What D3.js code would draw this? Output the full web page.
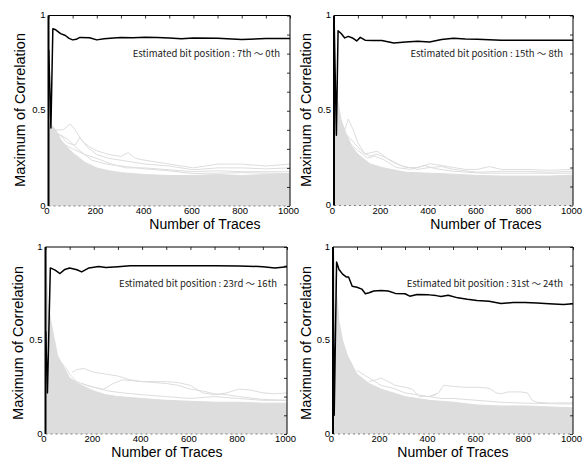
<!DOCTYPE html>
<html><head><meta charset="utf-8">
<script src="https://cdn.jsdelivr.net/npm/d3@7"></script>
<style>body{margin:0;background:#fff}svg{display:block}</style>
</head><body>
<svg id="c" width="587" height="461"></svg>
<script>
// ---- data ----
const xTicks = [0, 200, 400, 600, 800, 1000];
const yTicks = [0, 0.5, 1];
const xTitle = "Number of Traces";
const yTitle = "Maximum of Correlation";
const bitLabels = ["Estimated bit position : 7th ～ 0th", "Estimated bit position : 15th ～ 8th",
                   "Estimated bit position : 23rd ～ 16th", "Estimated bit position : 31st ～ 24th"];

// correct-key trace (black) per panel: [traces, max correlation]
const correct1 = [[1,0.82],[10,0.41],[18,0.93],[30,0.925],[50,0.905],[70,0.895],[85,0.88],[100,0.872],[115,0.875],[130,0.885],[170,0.883],[200,0.872],[230,0.878],[270,0.882],[300,0.885],[350,0.883],[400,0.886],[450,0.884],[500,0.882],[550,0.878],[600,0.882],[700,0.88],[800,0.874],[900,0.879],[1000,0.879]];
const correct2 = [[1,0.95],[10,0.37],[17,0.92],[30,0.905],[45,0.882],[60,0.89],[80,0.88],[95,0.866],[110,0.885],[130,0.87],[160,0.868],[200,0.868],[250,0.855],[300,0.86],[350,0.864],[400,0.86],[450,0.874],[500,0.88],[550,0.876],[600,0.875],[700,0.87],[800,0.87],[900,0.87],[1000,0.87]];
const correct3 = [[1,0.55],[8,0.22],[20,0.888],[40,0.876],[60,0.858],[80,0.88],[100,0.888],[130,0.878],[150,0.867],[180,0.888],[220,0.896],[250,0.89],[300,0.895],[350,0.9],[500,0.9],[700,0.9],[800,0.899],[900,0.895],[950,0.888],[1000,0.895]];
const correct4 = [[1,0.75],[5,0.1],[15,0.92],[25,0.88],[40,0.855],[55,0.84],[65,0.84],[80,0.79],[100,0.785],[120,0.775],[135,0.75],[150,0.755],[170,0.765],[200,0.767],[230,0.765],[260,0.752],[300,0.75],[320,0.737],[350,0.746],[400,0.744],[430,0.74],[450,0.735],[480,0.742],[520,0.728],[560,0.72],[600,0.714],[650,0.71],[700,0.698],[750,0.703],[800,0.703],[850,0.7],[900,0.697],[960,0.692],[1000,0.697]];

// dense band of wrong-key traces (upper edge) per panel
const band1 = [[0,0.44],[15,0.42],[30,0.40],[50,0.35],[75,0.31],[100,0.28],[150,0.23],[200,0.2],[250,0.185],[300,0.175],[400,0.165],[500,0.16],[600,0.16],[700,0.165],[800,0.16],[900,0.165],[1000,0.17]];
const band2 = [[0,0.65],[8,0.6],[15,0.55],[30,0.45],[50,0.38],[75,0.31],[100,0.27],[150,0.22],[200,0.2],[300,0.175],[400,0.17],[500,0.165],[600,0.158],[700,0.155],[800,0.155],[900,0.155],[1000,0.16]];
const band3 = [[0,1.0],[3,0.95],[6,0.8],[10,0.7],[20,0.62],[30,0.55],[50,0.42],[70,0.37],[100,0.3],[150,0.26],[200,0.23],[250,0.21],[300,0.2],[400,0.19],[500,0.18],[600,0.175],[700,0.17],[800,0.17],[900,0.165],[1000,0.165]];
const band4 = [[0,1.0],[4,0.95],[8,0.85],[15,0.75],[25,0.6],[40,0.5],[60,0.42],[80,0.37],[100,0.32],[150,0.27],[200,0.24],[250,0.22],[300,0.2],[400,0.18],[500,0.17],[600,0.155],[700,0.15],[800,0.15],[900,0.145],[1000,0.14]];

// individual wrong-key traces standing above the band
const wrong1 = [
 [[20,0.40],[60,0.40],[90,0.43],[110,0.40],[140,0.34],[170,0.31],[200,0.29],[250,0.27],[300,0.26],[330,0.28],[360,0.25],[400,0.24],[450,0.23],[500,0.22],[550,0.21],[600,0.20],[650,0.21],[700,0.22],[800,0.22],[900,0.21],[1000,0.22]],
 [[20,0.38],[50,0.37],[80,0.33],[110,0.32],[130,0.36],[160,0.31],[200,0.27],[250,0.25],[300,0.24],[350,0.23],[400,0.22],[500,0.21],[600,0.19],[700,0.2],[800,0.2],[900,0.195],[1000,0.2]],
 [[30,0.36],[70,0.32],[100,0.30],[150,0.27],[200,0.25],[260,0.22],[320,0.2],[400,0.2],[500,0.19],[600,0.18],[700,0.185],[800,0.18],[1000,0.18]],
 [[40,0.38],[80,0.35],[120,0.3],[180,0.24],[240,0.22],[300,0.21],[400,0.195],[500,0.185],[600,0.17],[800,0.175],[1000,0.17]]
];
const wrong2 = [
 [[40,0.38],[60,0.455],[80,0.4],[100,0.33],[130,0.27],[160,0.28],[180,0.285],[200,0.27],[230,0.24],[260,0.22],[300,0.2],[350,0.2],[400,0.22],[430,0.215],[500,0.2],[550,0.19],[600,0.19],[650,0.205],[700,0.19],[800,0.19],[900,0.185],[1000,0.19]],
 [[30,0.4],[70,0.35],[120,0.28],[150,0.26],[180,0.27],[220,0.25],[280,0.21],[350,0.19],[400,0.2],[450,0.205],[500,0.19],[600,0.175],[700,0.18],[800,0.18],[900,0.175],[1000,0.18]],
 [[50,0.34],[100,0.29],[140,0.25],[170,0.26],[210,0.24],[260,0.2],[320,0.19],[380,0.21],[420,0.195],[500,0.18],[620,0.17],[750,0.17],[1000,0.17]]
];
const wrong3 = [
 [[110,0.33],[130,0.345],[160,0.35],[200,0.33],[250,0.32],[300,0.31],[350,0.29],[400,0.28],[450,0.275],[500,0.27],[550,0.26],[600,0.24],[650,0.23],[700,0.215],[750,0.21],[800,0.2],[900,0.185],[1000,0.18]],
 [[150,0.27],[200,0.25],[240,0.24],[280,0.27],[320,0.29],[360,0.285],[400,0.28],[450,0.28],[500,0.28],[550,0.275],[600,0.26],[650,0.22],[700,0.21],[750,0.22],[800,0.24],[850,0.235],[900,0.22],[950,0.215],[1000,0.22]],
 [[60,0.39],[80,0.36],[100,0.32],[130,0.28],[170,0.26],[200,0.25],[260,0.23],[320,0.22],[400,0.21],[500,0.2],[600,0.19],[700,0.2],[800,0.19],[900,0.18],[1000,0.18]]
];
const wrong4 = [
 [[150,0.28],[180,0.29],[200,0.3],[230,0.28],[260,0.26],[300,0.25],[330,0.24],[360,0.2],[400,0.2],[430,0.21]],
 [[400,0.2],[440,0.22],[460,0.26],[500,0.255],[550,0.25],[600,0.25],[650,0.245],[680,0.22],[700,0.215],[730,0.225],[780,0.225],[810,0.22],[830,0.18],[850,0.17],[900,0.165],[1000,0.167]],
 [[100,0.34],[150,0.3],[200,0.26],[250,0.245],[300,0.22],[350,0.21],[400,0.2],[450,0.19],[500,0.19],[600,0.18],[700,0.17],[800,0.165],[1000,0.16]]
];

// ---- layout ----
const panels = [
  {l:48.5, r:290, t:15.5, b:206,  correct:correct1, band:band1, wrong:wrong1, label:bitLabels[0], xtx:205, xty:229, yx:25,  yty:110},
  {l:334,  r:573, t:15.5, b:205.5,correct:correct2, band:band2, wrong:wrong2, label:bitLabels[1], xtx:486, xty:229, yx:311, yty:110},
  {l:45.5, r:287, t:247,  b:434,  correct:correct3, band:band3, wrong:wrong3, label:bitLabels[2], xtx:167, xty:457.2, yx:23,  yty:343},
  {l:333,  r:573, t:247,  b:434,  correct:correct4, band:band4, wrong:wrong4, label:bitLabels[3], xtx:453, xty:457.2, yx:311, yty:343}
];

const svg = d3.select("#c");
const GRAY = "#dcdddc";
const FONT = "'Liberation Sans', Arial, Helvetica, sans-serif";

panels.forEach((p, i) => {
  const x = d3.scaleLinear().domain([0, 1000]).range([p.l, p.r]);
  const y = d3.scaleLinear().domain([0, 1]).range([p.b, p.t]);
  const g = svg.append("g");
  const cid = "clip" + i;
  svg.append("clipPath").attr("id", cid).append("rect")
    .attr("x", p.l).attr("y", p.t).attr("width", p.r - p.l).attr("height", p.b - p.t);
  const plot = g.append("g").attr("clip-path", `url(#${cid})`);

  plot.append("path").datum(p.band)
    .attr("d", d3.area().x(d => x(d[0])).y0(y(0)).y1(d => y(d[1])))
    .attr("fill", GRAY).attr("stroke", GRAY).attr("stroke-width", 1);

  const line = d3.line().x(d => x(d[0])).y(d => y(d[1]));
  plot.selectAll("path.w").data(p.wrong).join("path").attr("class", "w")
    .attr("d", line).attr("fill", "none").attr("stroke", GRAY).attr("stroke-width", 1);

  // bottom dotted baseline
  g.append("line").attr("x1", p.l).attr("x2", p.r).attr("y1", p.b).attr("y2", p.b)
    .attr("stroke", "#666").attr("stroke-width", 0.8).attr("stroke-dasharray", "2,3");

  plot.append("path").datum(p.correct)
    .attr("d", line).attr("fill", "none").attr("stroke", "#000").attr("stroke-width", 1.5)
    .attr("stroke-linejoin", "round");

  // frame
  g.append("line").attr("x1", p.l).attr("x2", p.l).attr("y1", p.t).attr("y2", p.b).attr("stroke", "#000").attr("stroke-width", 2);
  g.append("line").attr("x1", p.l).attr("x2", p.r).attr("y1", p.t).attr("y2", p.t).attr("stroke", "#000").attr("stroke-width", 1);
  g.append("line").attr("x1", p.r).attr("x2", p.r).attr("y1", p.t).attr("y2", p.b).attr("stroke", "#000").attr("stroke-width", 1);

  // inner ticks on top and right
  const topAx = g.append("g").attr("transform", `translate(0,${p.t})`)
    .call(d3.axisTop(x).tickValues(d3.range(0, 1001, 100)).tickSize(-3).tickFormat(""));
  topAx.select(".domain").remove();
  topAx.selectAll("line").attr("stroke", "#000").attr("stroke-width", 0.8);
  const rAx = g.append("g").attr("transform", `translate(${p.r},0)`)
    .call(d3.axisRight(y).tickValues(d3.range(0, 11).map(k => k / 10)).tickSize(-3).tickFormat(""));
  rAx.select(".domain").remove();
  rAx.selectAll("line").attr("stroke", "#000").attr("stroke-width", 0.8);

  // tick labels
  const bx = g.append("g").attr("transform", `translate(-2,${p.b})`)
    .call(d3.axisBottom(x).tickValues(xTicks).tickSize(0).tickPadding(1.5).tickFormat(d3.format("d")));
  bx.select(".domain").remove();
  bx.selectAll("text").attr("font-family", FONT).attr("font-size", "9.5px").attr("fill", "#000");
  const ly = g.append("g").attr("transform", `translate(${p.l},-1)`)
    .call(d3.axisLeft(y).tickValues(yTicks).tickSize(0).tickPadding(3).tickFormat(d3.format("~g")));
  ly.select(".domain").remove();
  ly.selectAll("text").attr("font-family", FONT).attr("font-size", "9.5px").attr("fill", "#000");

  // titles
  g.append("text").attr("x", p.xtx).attr("y", p.xty).attr("text-anchor", "middle")
    .attr("font-family", FONT).attr("font-size", "14px").text(xTitle);
  g.append("text").attr("transform", `translate(${p.yx},${p.yty}) rotate(-90)`).attr("text-anchor", "middle")
    .attr("font-family", FONT).attr("font-size", "14.5px").text(yTitle);

  // annotation
  g.append("text").attr("x", p.r - 10).attr("y", y(0.8) + 3).attr("text-anchor", "end")
    .attr("font-family", "'Noto Sans CJK JP', 'Noto Sans', sans-serif").attr("font-size", "9.5px")
    .attr("fill", "#222").text(p.label);
});
</script>
</body></html>
